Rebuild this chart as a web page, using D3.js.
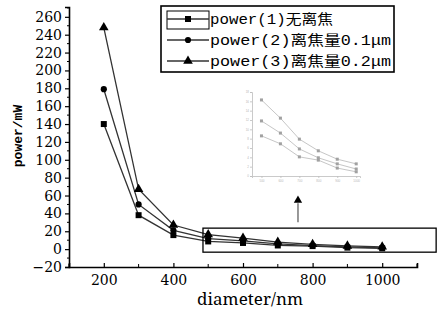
<!DOCTYPE html>
<html>
<head>
<meta charset="utf-8">
<script src="https://cdn.jsdelivr.net/npm/d3@7"></script>
<style>
  body { margin: 0; background: #fff; }
  svg { display: block; }
</style>
</head>
<body>
<div id="chart"></div>
<script>
// donnees
var diametres = [200, 300, 400, 500, 600, 700, 800, 900, 1000];
var power1 = [140, 38, 15.7, 8.6, 6.9, 4.1, 3.4, 1.7, 0.9];
var power2 = [179, 50, 21, 11.8, 9.2, 5.8, 3.9, 2.6, 1.5];
var power3 = [248, 67, 27, 16.3, 12.4, 7.9, 5.4, 3.6, 2.6];
var legendes = ["power(1)无离焦", "power(2)离焦量0.1μm", "power(3)离焦量0.2μm"];
var symboles = ["square", "circle", "triangle"];
var yTicks = [-20, 0, 20, 40, 60, 80, 100, 120, 140, 160, 180, 200, 220, 240, 260];
var xTicks = [200, 400, 600, 800, 1000];
var zoneZoom = { x0: 485, x1: 1155, y0: -3.4, y1: 23.5 };
var fleche = { x: 758, yBas: 30, yHaut: 58 };
var insetTicksY = [0, 2, 4, 6, 8, 10, 12, 14, 16, 18];

var series = [power1, power2, power3];

var largeur = 438, hauteur = 324;
var svg = d3.select("#chart").append("svg")
  .attr("width", largeur).attr("height", hauteur);

var x = d3.scaleLinear().domain([100, 1100]).range([69, 417]);
var y = d3.scaleLinear().domain([-20, 271]).range([267, 7]);

var serif = "'DejaVu Serif', serif";
var mono = "'Liberation Mono', 'Noto Sans CJK SC', monospace";

// ---- axes ----
var gy = svg.append("g").attr("transform", "translate(69,0)");
gy.call(d3.axisLeft(y).tickValues(yTicks).tickSize(4).tickPadding(3)
    .tickFormat(function(d){ return d < 0 ? "\u2212" + (-d) : d; }));
gy.append("g").selectAll("line")
  .data(d3.range(-10, 271, 20)).enter().append("line")
  .attr("x1", -2).attr("x2", 0)
  .attr("y1", function(d){ return y(d); }).attr("y2", function(d){ return y(d); })
  .attr("stroke", "#000");

var gx = svg.append("g").attr("transform", "translate(0,267)");
gx.call(d3.axisBottom(x).tickValues(xTicks).tickSize(-4).tickPadding(10)
    .tickFormat(d3.format("d")));
gx.append("g").selectAll("line")
  .data([100, 300, 500, 700, 900, 1100]).enter().append("line")
  .attr("x1", function(d){ return x(d); }).attr("x2", function(d){ return x(d); })
  .attr("y1", 0).attr("y2", -3)
  .attr("stroke", "#000");

[gx, gy].forEach(function(g){
  g.select(".domain").attr("stroke", "#000").attr("stroke-width", 1.6);
  g.selectAll(".tick line").attr("stroke", "#000").attr("stroke-width", 1.2);
  g.selectAll("text").style("font-family", serif).style("font-size", "14px")
    .attr("fill", "#000");
});
gx.selectAll(".tick text").attr("dy", "0.71em").attr("y", 8);

// titres des axes
svg.append("text")
  .attr("transform", "translate(22,136) rotate(-90)")
  .attr("text-anchor", "middle")
  .style("font-family", mono)
  .style("font-weight", "bold")
  .style("font-size", "13px")
  .text("power/mW");

svg.append("text")
  .attr("x", 250).attr("y", 305)
  .attr("text-anchor", "middle")
  .style("font-family", "'Noto Serif', serif")
  .style("font-size", "17px")
  .attr("textLength", 106)
  .text("diameter/nm");

// ---- courbes ----
var ligne = d3.line()
  .x(function(d, i){ return x(diametres[i]); })
  .y(function(d){ return y(d); });

var formes = {
  square: d3.symbol().type(d3.symbolSquare).size(36),
  circle: d3.symbol().type(d3.symbolCircle).size(30),
  triangle: d3.symbol().type(d3.symbolTriangle).size(40)
};

series.forEach(function(s, k){
  svg.append("path")
    .attr("d", ligne(s))
    .attr("fill", "none")
    .attr("stroke", "#333")
    .attr("stroke-width", 1.3);
  svg.selectAll(".pt" + k)
    .data(s).enter().append("path")
    .attr("class", "pt" + k)
    .attr("transform", function(d, i){ return "translate(" + x(diametres[i]) + "," + y(d) + ")"; })
    .attr("d", formes[symboles[k]]())
    .attr("fill", "#000");
});

// rectangle de zoom
svg.append("rect")
  .attr("x", x(zoneZoom.x0)).attr("y", y(zoneZoom.y1))
  .attr("width", x(zoneZoom.x1) - x(zoneZoom.x0))
  .attr("height", y(zoneZoom.y0) - y(zoneZoom.y1))
  .attr("fill", "none").attr("stroke", "#000").attr("stroke-width", 1.3);

// fleche
svg.append("line")
  .attr("x1", x(fleche.x)).attr("x2", x(fleche.x))
  .attr("y1", y(fleche.yBas)).attr("y2", y(fleche.yHaut) + 6)
  .attr("stroke", "#777").attr("stroke-width", 1.5);
svg.append("path")
  .attr("d", d3.symbol().type(d3.symbolTriangle).size(30)())
  .attr("transform", "translate(" + x(fleche.x) + "," + (y(fleche.yHaut) + 3) + ")")
  .attr("fill", "#000");

// ---- encart (agrandissement 500-1000) ----
var xi = d3.scaleLinear().domain([450, 1020]).range([252, 360]);
var yi = d3.scaleLinear().domain([0, 18]).range([176, 92]);
var encart = svg.append("g").attr("opacity", 0.55);
var gix = encart.append("g").attr("transform", "translate(0,176)")
  .call(d3.axisBottom(xi).tickValues(diametres.slice(3)).tickSize(2).tickPadding(2)
    .tickFormat(d3.format("d")));
var giy = encart.append("g").attr("transform", "translate(252,0)")
  .call(d3.axisLeft(yi).tickValues(insetTicksY).tickSize(2).tickPadding(1));
[gix, giy].forEach(function(g){
  g.selectAll("path, line").attr("stroke", "#888").attr("stroke-width", 0.8);
  g.selectAll("text").style("font-size", "3px").attr("fill", "#777");
});
var ligneInset = d3.line()
  .x(function(d, i){ return xi(diametres[i + 3]); })
  .y(function(d){ return yi(d); });
series.forEach(function(s, k){
  var sub = s.slice(3);
  encart.append("path").attr("d", ligneInset(sub))
    .attr("fill", "none").attr("stroke", "#999").attr("stroke-width", 1);
  encart.selectAll(".ip" + k).data(sub).enter().append("rect")
    .attr("class", "ip" + k)
    .attr("x", function(d, i){ return xi(diametres[i + 3]) - 1.5; })
    .attr("y", function(d){ return yi(d) - 1.5; })
    .attr("width", 3).attr("height", 3)
    .attr("fill", "#555");
});

// ---- legende ----
var leg = svg.append("g");
leg.append("rect")
  .attr("x", 161).attr("y", 6).attr("width", 233).attr("height", 66)
  .attr("fill", "#fff").attr("stroke", "#000").attr("stroke-width", 1.6);
leg.append("rect")
  .attr("x", 167).attr("y", 11).attr("width", 42).attr("height", 18)
  .attr("fill", "none").attr("stroke", "#000").attr("stroke-width", 1);
var longueurs = [123, 181, 181];
legendes.forEach(function(t, k){
  var ly = 19 + k * 21;
  leg.append("line")
    .attr("x1", 167).attr("x2", 209).attr("y1", ly).attr("y2", ly)
    .attr("stroke", "#333").attr("stroke-width", 1.3);
  leg.append("path")
    .attr("d", formes[symboles[k]]())
    .attr("transform", "translate(188," + ly + ")")
    .attr("fill", "#000");
  leg.append("text")
    .attr("x", 210).attr("y", ly + 5)
    .style("font-family", mono)
    .style("font-size", "14px")
    .attr("textLength", longueurs[k])
    .attr("lengthAdjust", "spacingAndGlyphs")
    .text(t);
});
</script>
</body>
</html>
